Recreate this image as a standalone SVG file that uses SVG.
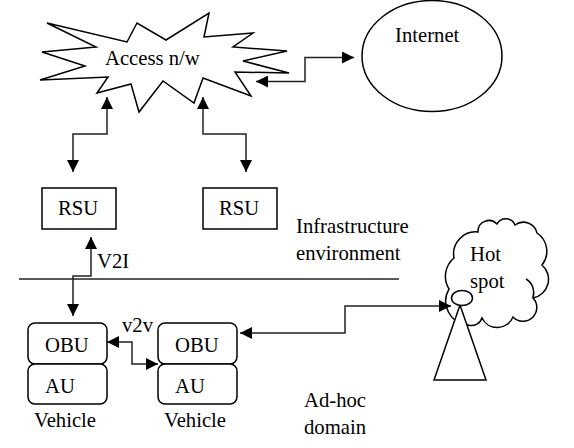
<svg xmlns="http://www.w3.org/2000/svg" width="574" height="448" viewBox="0 0 574 448">
<defs><marker id="a" markerUnits="userSpaceOnUse" markerWidth="12" markerHeight="12" refX="12" refY="6" orient="auto-start-reverse"><path d="M0 0L12 6L0 12Z" fill="#000"/></marker></defs>
<style>
.s{fill:#fff;stroke:#000;stroke-width:1.5}
.i{fill:none;stroke:#000;stroke-width:1.5}
.c{fill:none;stroke:#222;stroke-width:1.5;marker-start:url(#a);marker-end:url(#a)}
text{font-family:"Liberation Serif",serif;font-size:20.7px;fill:#000}
</style>
<rect width="574" height="448" fill="#fff"/>
<g id="access"><path class="s" d="M47 23L127 42L137 23L166 40L209 13L204 37L253 33L233 47L287 51L243 61L289 73L235 72L251 96L203 78L194 103L163 81L139 112L131 84L97 93L108 77L40 80L85 66L42 52L96 47Z"/><text x="105" y="65">Access n/w</text></g>
<g id="internet"><ellipse class="s" cx="432" cy="56" rx="70" ry="55.500"/><text x="395" y="42">Internet</text></g>
<g id="rsu1"><rect class="s" x="42" y="188" width="74" height="41"/><text x="58" y="215">RSU</text></g>
<g id="rsu2"><rect class="s" x="203" y="188" width="74" height="41"/><text x="219" y="215">RSU</text></g>
<g id="infra"><text x="296" y="233">Infrastructure</text><text x="296" y="260">environment</text></g>
<g id="divider"><path d="M19 279H399" stroke="#222" stroke-width="1.5"/></g>
<g id="vehicle1"><rect class="s" x="28" y="323" width="79" height="41" rx="7"/><rect class="s" x="28" y="364" width="79" height="40" rx="7"/><text x="45" y="352">OBU</text><text x="45" y="393">AU</text><text x="34" y="427">Vehicle</text></g>
<g id="vehicle2"><rect class="s" x="158" y="323" width="79" height="41" rx="7"/><rect class="s" x="158" y="364" width="79" height="40" rx="7"/><text x="175" y="352">OBU</text><text x="175" y="393">AU</text><text x="164" y="427">Vehicle</text></g>
<g id="hotspot"><path class="s" d="M454 258A22 22 0 0 1 478 232A11 11 0 0 1 497 224A10 10 0 0 1 515 225A14 14 0 0 1 537 233A22 22 0 0 1 542 265A19 19 0 0 1 533 298A13 13 0 0 1 513 317A17 17 0 0 1 482 318A11 11 0 0 1 468 325A24 24 0 0 1 449 289A24 24 0 0 1 454 258Z"/><path class="i" d="M533 298C535 291 533 283 526 279"/><text x="470" y="261">Hot</text><text x="470" y="288">spot</text></g>
<g id="tower"><path class="s" d="M460 305L434 380H486Z"/><ellipse class="s" cx="462" cy="298" rx="10.500" ry="7.500"/></g>
<g id="labels"><text x="97" y="268">V2I</text><text x="122" y="332">v2v</text><text x="304" y="407">Ad-hoc</text><text x="304" y="434">domain</text></g>
<g id="connectors">
<path class="c" d="M256 81.500H305V57.500H354"/>
<path class="c" d="M107 97V134H73V172"/>
<path class="c" d="M203 97V134H246V172"/>
<path class="c" d="M91 237V276H73V316"/>
<path class="c" d="M107 342H132V364H158"/>
<path class="c" d="M240 333H345V306H451"/>
</g>
</svg>
